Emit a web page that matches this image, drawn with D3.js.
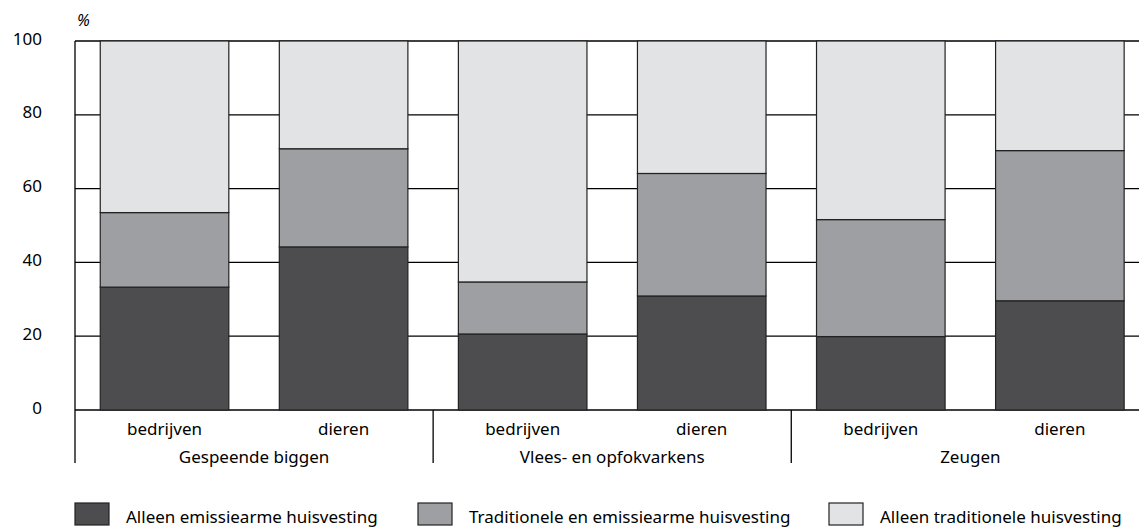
<!DOCTYPE html>
<html><head><meta charset="utf-8">
<script src="https://cdn.jsdelivr.net/npm/d3@7"></script>
<style>body{margin:0;background:#fff}svg{display:block}text{font-family:"Noto Sans",sans-serif;fill:#000}</style>
</head><body>
<script>
const groups = ["Gespeende biggen", "Vlees- en opfokvarkens", "Zeugen"];
const subcats = ["bedrijven", "dieren"];
const seriesNames = ["Alleen emissiearme huisvesting", "Traditionele en emissiearme huisvesting", "Alleen traditionele huisvesting"];
const emissiearme = [33.3, 44.2, 20.6, 30.9, 19.9, 29.6];
const beide = [20.2, 26.6, 14.1, 33.2, 31.7, 40.7];
const traditioneel = [46.5, 29.2, 65.3, 35.9, 48.4, 29.7];
const yTicks = [0, 20, 40, 60, 80, 100];
const colors = ["#4d4d4f", "#9e9fa2", "#e2e3e5"];

const W = 1139, H = 530;
const svg = d3.select("body").append("svg").attr("width", W).attr("height", H);
const bars = [];
groups.forEach((g, gi) => subcats.forEach((s, si) => bars.push({key: g + "|" + s, group: g, sub: s})));
const rows = bars.map((b, i) => ({key: b.key, e: emissiearme[i], b: beide[i], t: traditioneel[i]}));

const x = d3.scaleBand().domain(bars.map(b => b.key)).range([75, 1149.4]).paddingInner(0.282).paddingOuter(0.141);
const y = d3.scaleLinear().domain([0, 100]).range([410, 41]);

// gridlines
svg.append("g").selectAll("line").data(yTicks).join("line")
  .attr("x1", 75).attr("x2", W).attr("y1", d => y(d)).attr("y2", d => y(d))
  .attr("stroke", "#000").attr("stroke-width", 1.3);

// y labels
svg.append("g").selectAll("text").data(yTicks).join("text")
  .attr("x", 42).attr("y", d => y(d) + 3.5).attr("text-anchor", "end")
  .attr("font-size", 17).text(d => d);
svg.append("text").attr("x", 77).attr("y", 26).attr("font-size", 16).attr("font-style", "italic").text("%");

// stacks
const stack = d3.stack().keys(["e", "b", "t"]);
const layers = stack(rows);
svg.append("g").selectAll("g").data(layers).join("g")
  .attr("fill", (d, i) => colors[i])
  .selectAll("rect").data(d => d).join("rect")
  .attr("x", d => x(d.data.key)).attr("width", x.bandwidth())
  .attr("y", d => y(d[1])).attr("height", d => y(d[0]) - y(d[1]))
  .attr("stroke", "#222").attr("stroke-width", 1.2);

// left axis line
svg.append("line").attr("x1", 75).attr("x2", 75).attr("y1", 41).attr("y2", 463).attr("stroke", "#000").attr("stroke-width", 1.3);

// sub labels
svg.append("g").selectAll("text").data(bars).join("text")
  .attr("x", d => x(d.key) + x.bandwidth() / 2).attr("y", 435).attr("text-anchor", "middle")
  .attr("font-size", 17).text(d => d.sub);

// group separators and labels
const step = x.step();
groups.forEach((g, gi) => {
  const k1 = bars[gi * 2].key, k2 = bars[gi * 2 + 1].key;
  const cx = (x(k1) + x(k2) + x.bandwidth()) / 2;
  svg.append("text").attr("x", cx).attr("y", 463).attr("text-anchor", "middle").attr("font-size", 17).text(g);
  if (gi > 0) {
    const sx = x(k1) - (step - x.bandwidth()) / 2;
    svg.append("line").attr("x1", sx).attr("x2", sx).attr("y1", 410).attr("y2", 463).attr("stroke", "#000").attr("stroke-width", 1.3);
  }
});

// legend
const legX = [75, 418, 829];
seriesNames.forEach((n, i) => {
  svg.append("rect").attr("x", legX[i]).attr("y", 503).attr("width", 34).attr("height", 22)
    .attr("fill", colors[i]).attr("stroke", "#222").attr("stroke-width", 1.2);
  svg.append("text").attr("x", legX[i] + 51).attr("y", 523).attr("font-size", 17).text(n);
});
</script>
</body></html>
